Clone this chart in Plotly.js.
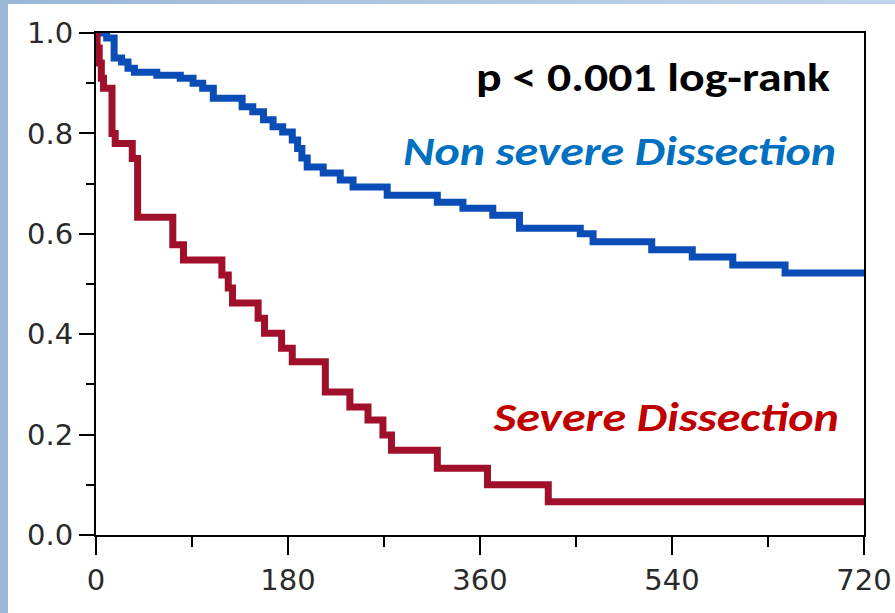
<!DOCTYPE html>
<html>
<head>
<meta charset="utf-8">
<script src="https://cdn.plot.ly/plotly-3.0.1.min.js"></script>
<style>
  html, body { margin: 0; padding: 0; width: 895px; height: 613px; overflow: hidden;
    background: linear-gradient(90deg, #9ab7d7 0%, #b4cae3 60%, #c2d4ea 100%); }
  #chart { position: absolute; left: 8px; top: 4px; width: 887px; height: 609px; background: #ffffff; }
</style>
</head>
<body>
<div id="chart"></div>
<script>
// Kaplan-Meier step data (days, survival)
const nonSevereDays = [0, 10, 17, 24, 30, 36, 57, 79, 91, 100, 110, 137, 147, 157, 166, 175, 184, 189, 193, 198, 213, 229, 241, 273, 320, 344, 372, 397, 454, 466, 521, 559, 597, 646, 720];
const nonSevereSurv = [1.0, 0.99, 0.95, 0.942, 0.93, 0.922, 0.916, 0.91, 0.90, 0.89, 0.87, 0.853, 0.843, 0.827, 0.813, 0.803, 0.787, 0.77, 0.751, 0.733, 0.721, 0.707, 0.693, 0.677, 0.663, 0.651, 0.637, 0.611, 0.60, 0.584, 0.568, 0.554, 0.538, 0.522, 0.522];

const severeDays = [0, 1, 3, 5, 7, 15, 18, 34, 39, 72, 82, 118, 124, 128, 152, 158, 174, 184, 215, 238, 255, 269, 277, 320, 367, 424, 720];
const severeSurv = [1.0, 0.97, 0.94, 0.91, 0.89, 0.80, 0.78, 0.75, 0.633, 0.578, 0.548, 0.518, 0.492, 0.462, 0.432, 0.402, 0.372, 0.345, 0.285, 0.255, 0.229, 0.199, 0.169, 0.133, 0.10, 0.066, 0.066];

const xTicks = [0, 180, 360, 540, 720];
const yTicks = [0.0, 0.2, 0.4, 0.6, 0.8, 1.0];
const yTickText = ['0.0', '0.2', '0.4', '0.6', '0.8', '1.0'];

const pText = 'p < 0.001 log-rank';
const nonSevereLabel = 'Non severe Dissection';
const severeLabel = 'Severe Dissection';

const traces = [
  { x: nonSevereDays, y: nonSevereSurv, type: 'scatter', mode: 'lines',
    line: { shape: 'hv', color: '#0b4db6', width: 7 }, name: nonSevereLabel, hoverinfo: 'skip' },
  { x: severeDays, y: severeSurv, type: 'scatter', mode: 'lines',
    line: { shape: 'hv', color: '#a0102b', width: 7 }, name: severeLabel, hoverinfo: 'skip' }
];

const tickFont = { family: 'DejaVu Sans, Verdana, sans-serif', size: 29, color: '#2a2a2a' };
const annFam = 'Carlito, "Open Sans", sans-serif';

// widths (px) of the horizontally stretched labels in the reference
const annWidths = [354, 433, 345];

const layout = {
  width: 887, height: 609,
  margin: { l: 88, r: 31, t: 29, b: 78 },
  paper_bgcolor: '#ffffff', plot_bgcolor: '#ffffff',
  showlegend: false,
  xaxis: {
    range: [0, 720], tickvals: xTicks, ticktext: xTicks.map(String),
    ticks: 'outside', ticklen: 18, tickwidth: 2, tickcolor: '#000',
    showline: true, linecolor: '#000', linewidth: 2, mirror: true,
    showgrid: false, zeroline: false, tickfont: tickFont,
    minor: { dtick: 90, tick0: 0, ticks: 'outside', ticklen: 10, tickwidth: 2, tickcolor: '#000', showgrid: false }
  },
  yaxis: {
    range: [0, 1], tickvals: yTicks, ticktext: yTickText,
    ticks: 'outside', ticklen: 15, tickwidth: 2, tickcolor: '#000',
    showline: true, linecolor: '#000', linewidth: 2, mirror: true,
    showgrid: false, zeroline: false, tickfont: tickFont,
    minor: { dtick: 0.1, tick0: 0, ticks: 'outside', ticklen: 8, tickwidth: 2, tickcolor: '#000', showgrid: false }
  },
  annotations: [
    { text: '<b>' + pText + '</b>', x: 522, y: 0.912, xref: 'x', yref: 'y',
      xanchor: 'center', yanchor: 'middle', showarrow: false,
      font: { family: annFam, size: 41, color: '#000000' } },
    { text: '<b><i>' + nonSevereLabel + '</i></b>', x: 491, y: 0.765, xref: 'x', yref: 'y',
      xanchor: 'center', yanchor: 'middle', showarrow: false,
      font: { family: annFam, size: 41, color: '#0070c0' } },
    { text: '<b><i>' + severeLabel + '</i></b>', x: 534, y: 0.235, xref: 'x', yref: 'y',
      xanchor: 'center', yanchor: 'middle', showarrow: false,
      font: { family: annFam, size: 41, color: '#c00000' } }
  ]
};

Plotly.newPlot('chart', traces, layout, { staticPlot: true, displayModeBar: false }).then(function (gd) {
  const texts = gd.querySelectorAll('.annotation-text');
  texts.forEach(function (t, i) {
    if (annWidths[i]) {
      t.setAttribute('textLength', annWidths[i]);
      t.setAttribute('lengthAdjust', 'spacingAndGlyphs');
    }
  });
});
</script>
</body>
</html>
